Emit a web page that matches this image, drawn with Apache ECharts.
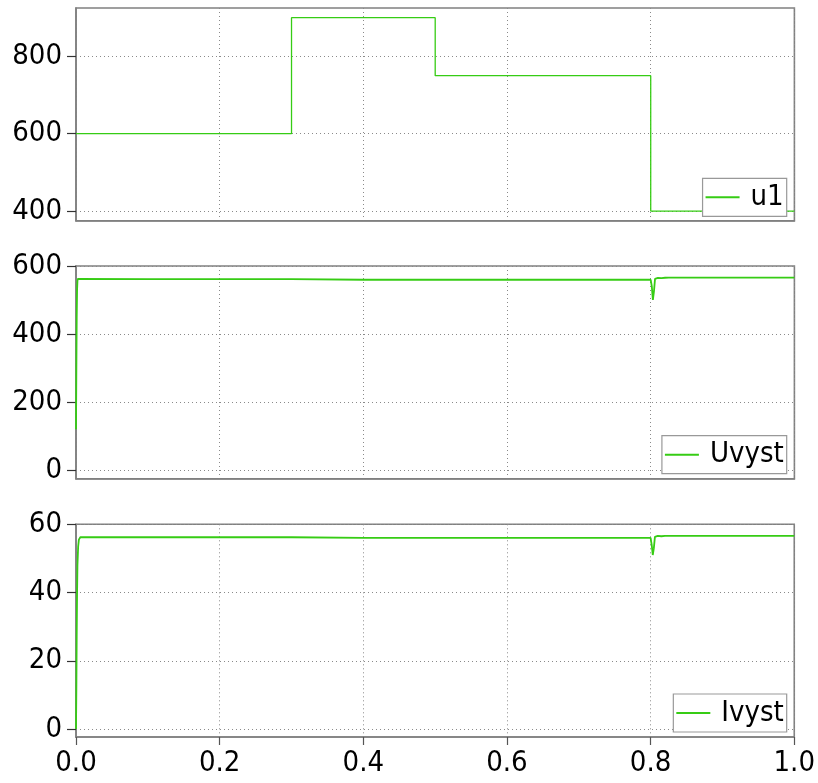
<!DOCTYPE html>
<html>
<head>
<meta charset="utf-8">
<script src="https://cdn.jsdelivr.net/npm/echarts@6/dist/echarts.min.js"></script>
<style>
html, body { margin: 0; padding: 0; background: #ffffff; }
#chart { width: 818px; height: 783px; }
</style>
</head>
<body>
<div id="chart"></div>
<script>
// Input voltage u1 (step profile)
const u1Time  = [0, 0.3, 0.5, 0.8, 1.0];
const u1Value = [600, 900, 750, 400, 400];

// Output voltage Uvyst
const uvystTime  = [0, 0.0005, 0.001, 0.0015, 0.002, 0.0025, 0.003, 0.1, 0.2, 0.3, 0.302, 0.4, 0.5, 0.6, 0.7, 0.8,
                    0.8015, 0.803, 0.8036, 0.8045, 0.806, 0.81, 0.815, 0.82, 0.825, 0.9, 1.0];
const uvystValue = [120, 300, 450, 530, 556, 562, 561.5, 561.5, 561.5, 561.5, 559.5, 559.5, 559.5, 559.5, 559.5, 559.5,
                    540, 500, 495, 525, 562, 565, 564.5, 565.5, 565.6, 565.6, 565.6];

// Output current Ivyst
const ivystTime  = [0, 0.0005, 0.001, 0.0015, 0.002, 0.003, 0.004, 0.006, 0.1, 0.2, 0.3, 0.302, 0.4, 0.5, 0.6, 0.7, 0.8,
                    0.8015, 0.803, 0.8036, 0.8045, 0.806, 0.81, 0.815, 0.82, 0.825, 0.9, 1.0];
const ivystValue = [0, 12, 28, 40, 48, 53.5, 55.5, 56.2, 56.2, 56.2, 56.2, 56.0, 56.0, 56.0, 56.0, 56.0, 56.0,
                    54, 51, 50.7, 53, 56.3, 56.6, 56.5, 56.6, 56.6, 56.6, 56.6];

// Axis tick values
const u1Ticks = [400, 600, 800];
const uvystTicks = [0, 200, 400, 600];
const ivystTicks = [0, 20, 40, 60];

const pair = (xs, ys) => xs.map((x, i) => [x, ys[i]]);

const FONT = "'DejaVu Sans Condensed', 'DejaVu Sans', sans-serif";
const GREEN = '#36cc14';
const FRAME = '#808080';

const gridTops = [8, 266, 524.3];
const gridH = 212.7;

const grids = gridTops.map(t => ({
  left: 76, right: 23.6, top: t, height: gridH,
  show: true, borderColor: FRAME, borderWidth: 1.6, backgroundColor: 'transparent'
}));

function xAxisFor(i, labelled) {
  return {
    type: 'value', gridIndex: i, min: 0, max: 1, interval: 0.2,
    axisLine: { show: true, onZero: false, lineStyle: { color: FRAME, width: 1.6 } },
    axisTick: { show: labelled, length: 8, lineStyle: { color: '#555', width: 1.2 } },
    axisLabel: {
      show: labelled, margin: 12, fontSize: 29, color: '#000', fontFamily: FONT,
      showMinLabel: true, showMaxLabel: true,
      formatter: v => v.toFixed(1)
    },
    splitLine: { show: true, lineStyle: { color: '#8a8a8a', type: [1, 3], width: 1 } }
  };
}

function yAxisFor(i, min, max, ticks) {
  return {
    type: 'value', gridIndex: i, min: min, max: max,
    axisLine: { show: true, onZero: false, lineStyle: { color: FRAME, width: 1.6 } },
    axisTick: { show: true, length: 9, customValues: ticks, lineStyle: { color: '#333', width: 1.2 } },
    axisLabel: { margin: 14, fontSize: 29, color: '#000', fontFamily: FONT, customValues: ticks },
    splitLine: { show: true, lineStyle: { color: '#8a8a8a', type: [1, 3], width: 1 } }
  };
}

function legendFor(name, top) {
  return {
    data: [name], top: top, right: 31.3, orient: 'horizontal',
    backgroundColor: '#ffffff', borderColor: '#999999', borderWidth: 1.2, borderRadius: 0,
    padding: [4, 3, 4, 3],
    icon: 'rect', itemWidth: 34, itemHeight: 2,
    textStyle: { fontSize: 29, color: '#000', fontFamily: FONT, lineHeight: 30, padding: [0, 0, 0, 6] },
    selectedMode: false
  };
}

function lineSeries(name, i, data, width, step) {
  return {
    name: name, type: 'line', xAxisIndex: i, yAxisIndex: i,
    data: data, step: step || false, symbol: 'none', showSymbol: false,
    lineStyle: { color: GREEN, width: width }, itemStyle: { color: GREEN },
    animation: false, z: 2
  };
}

const chart = echarts.init(document.getElementById('chart'), null, { renderer: 'canvas' });
chart.setOption({
  animation: false,
  backgroundColor: '#ffffff',
  grid: grids,
  xAxis: [xAxisFor(0, false), xAxisFor(1, false), xAxisFor(2, true)],
  yAxis: [
    yAxisFor(0, 375, 925, u1Ticks),
    yAxisFor(1, -25.6, 600, uvystTicks),
    yAxisFor(2, -2.35, 60, ivystTicks)
  ],
  legend: [
    legendFor('u1', 178.3),
    legendFor('Uvyst', 435.7),
    legendFor('Ivyst', 694)
  ],
  series: [
    lineSeries('u1', 0, pair(u1Time, u1Value), 1.3, 'end'),
    lineSeries('Uvyst', 1, pair(uvystTime, uvystValue), 1.8),
    lineSeries('Ivyst', 2, pair(ivystTime, ivystValue), 1.8)
  ]
});
</script>
</body>
</html>
